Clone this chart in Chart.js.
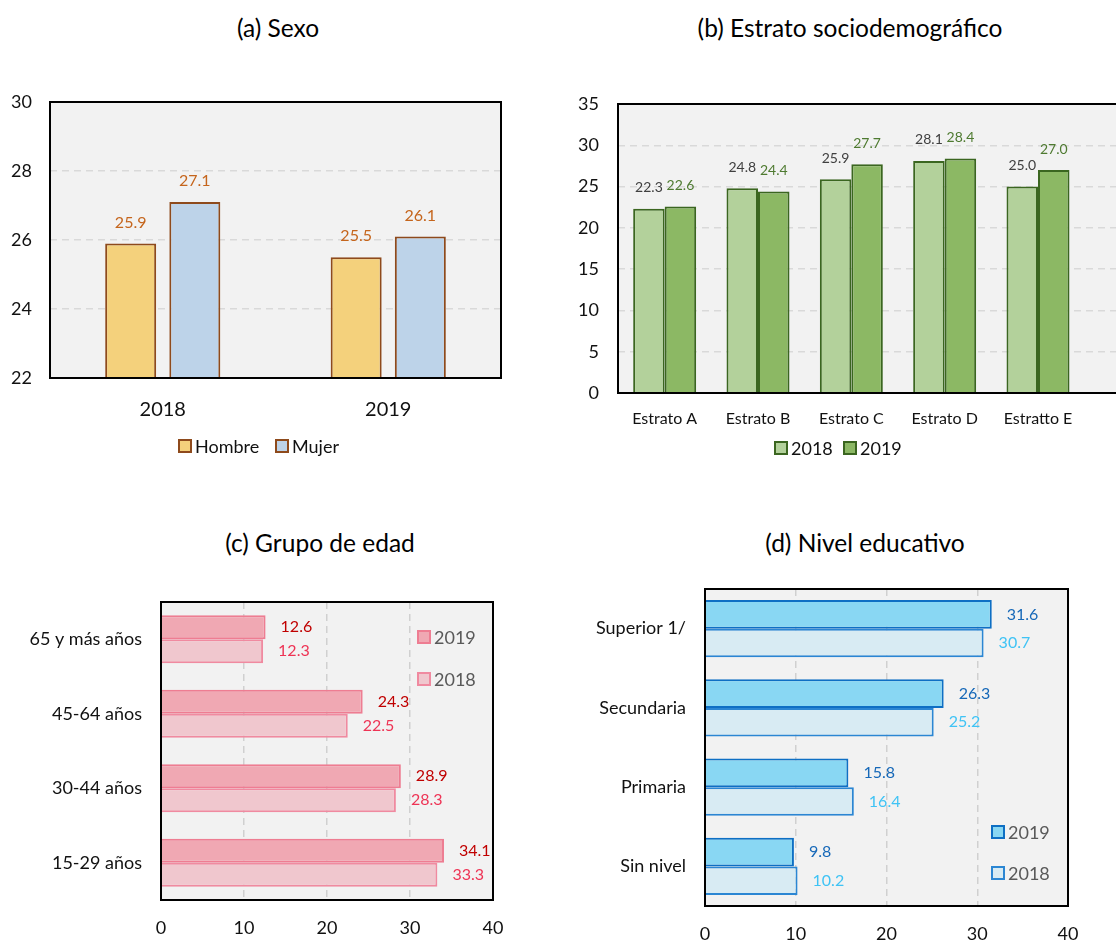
<!DOCTYPE html>
<html>
<head>
<meta charset="utf-8">
<script src="https://cdn.jsdelivr.net/npm/chart.js@4"></script>
<style>
  body { margin: 0; width: 1116px; height: 940px; overflow: hidden; background: #fff; position: relative; font-family: Lato, "Open Sans", sans-serif; }
  .title { position: absolute; width: 400px; text-align: center; font-size: 24.5px; line-height: 24px; color: #000; }
  .panel { position: absolute; }
</style>
</head>
<body>

<div class="title" style="left:78px;top:16px">(a) Sexo</div>
<div class="title" style="left:650px;top:16px">(b) Estrato sociodemográfico</div>
<div class="title" style="left:120px;top:531px">(c) Grupo de edad</div>
<div class="title" style="left:665px;top:531px">(d) Nivel educativo</div>

<div class="panel" style="left:0;top:80px"><canvas id="sexo" width="560" height="400"></canvas></div>
<div class="panel" style="left:560px;top:80px"><canvas id="estrato" width="640" height="400"></canvas></div>
<div class="panel" style="left:0;top:560px"><canvas id="edad" width="560" height="390"></canvas></div>
<div class="panel" style="left:560px;top:560px"><canvas id="nivel" width="556" height="390"></canvas></div>

<script>
// ---------- DATA ----------
const anios = ['2018', '2019'];
const hombre = [25.9, 25.5];
const mujer = [27.1, 26.1];

const estratos = ['Estrato A', 'Estrato B', 'Estrato C', 'Estrato D', 'Estratto E'];
const estrato2018 = [22.3, 24.8, 25.9, 28.1, 25.0];
const estrato2019 = [22.6, 24.4, 27.7, 28.4, 27.0];

const edades = ['65 y más años', '45-64 años', '30-44 años', '15-29 años'];
const edad2019 = [12.6, 24.3, 28.9, 34.1];
const edad2018 = [12.3, 22.5, 28.3, 33.3];

const niveles = ['Superior 1/', 'Secundaria', 'Primaria', 'Sin nivel'];
const nivel2019 = [31.6, 26.3, 15.8, 9.8];
const nivel2018 = [30.7, 25.2, 16.4, 10.2];

Chart.defaults.font.family = 'Lato, "Open Sans", sans-serif';
Chart.defaults.color = '#111';

// ---------- PLUGINS ----------
// grey plot background + black frame
const plotFrame = {
  id: 'plotFrame',
  beforeDraw(chart) {
    const a = chart.chartArea, ctx = chart.ctx;
    ctx.save();
    ctx.fillStyle = '#f2f2f2';
    ctx.fillRect(a.left, a.top, a.right - a.left, a.bottom - a.top);
    ctx.restore();
  },
  afterDatasetsDraw(chart) {
    const a = chart.chartArea, ctx = chart.ctx;
    ctx.save();
    ctx.strokeStyle = '#000';
    ctx.lineWidth = 2;
    ctx.strokeRect(a.left, a.top, a.right - a.left, a.bottom - a.top);
    ctx.restore();
  }
};

// value labels above / right of bars
const valueLabels = {
  id: 'valueLabels',
  afterDatasetsDraw(chart, args, opts) {
    const ctx = chart.ctx;
    const horiz = chart.options.indexAxis === 'y';
    ctx.save();
    ctx.font = opts.font;
    ctx.textBaseline = 'middle';
    ctx.textAlign = horiz ? 'left' : 'center';
    chart.data.datasets.forEach((ds, i) => {
      ctx.fillStyle = ds.labelColor;
      chart.getDatasetMeta(i).data.forEach((bar, j) => {
        const txt = ds.data[j].toFixed(1);
        if (horiz) ctx.fillText(txt, bar.x + opts.offset, bar.y);
        else ctx.fillText(txt, bar.x, bar.y - opts.offset);
      });
    });
    ctx.restore();
  }
};

// small square legend placed at fixed spots
const boxLegend = {
  id: 'boxLegend',
  afterDraw(chart, args, opts) {
    const ctx = chart.ctx;
    ctx.save();
    ctx.font = opts.font;
    ctx.textBaseline = 'middle';
    ctx.textAlign = 'left';
    chart.data.datasets.forEach((ds, i) => {
      const [x, cy] = opts.at[i];
      ctx.fillStyle = ds.backgroundColor;
      ctx.fillRect(x, cy - 6, 12, 12);
      ctx.strokeStyle = ds.borderColor;
      ctx.lineWidth = 2;
      ctx.strokeRect(x, cy - 6, 12, 12);
      ctx.fillStyle = opts.color;
      ctx.fillText(ds.label, x + 16, cy + 1);
    });
    ctx.restore();
  }
};

// fixed axis size, and no extra room for the end labels
function fixSize(w, h) {
  return s => {
    if (w) s.width = w;
    if (h) s.height = h;
    s.paddingTop = 0; s.paddingBottom = 0;
    s.paddingLeft = 0; s.paddingRight = 0;
  };
}

const base = {
  responsive: false,
  animation: false,
  events: []
};

// ---------- (a) SEXO ----------
new Chart(document.getElementById('sexo'), {
  type: 'bar',
  data: {
    labels: anios,
    datasets: [
      { label: 'Hombre', data: hombre, backgroundColor: '#f4d17c', borderColor: '#8e4a1c', labelColor: '#c5651c' },
      { label: 'Mujer', data: mujer, backgroundColor: '#bdd3e9', borderColor: '#8e4a1c', labelColor: '#c5651c' }
    ]
  },
  options: {
    ...base,
    datasets: { bar: { borderWidth: 2, categoryPercentage: 0.569, barPercentage: 0.795 } },
    layout: { padding: { top: 22, left: 0, right: 59, bottom: 42 } },
    scales: {
      x: {
        grid: { display: false, drawTicks: false }, border: { display: false },
        ticks: { font: { size: 20 }, padding: 20 },
        afterFit: fixSize(0, 60)
      },
      y: {
        min: 22, max: 30,
        ticks: { stepSize: 2, font: { size: 18 }, padding: 18 },
        grid: { color: '#d9d9d9', lineWidth: 1.5, drawTicks: false },
        border: { display: false, dash: [7, 5] },
        afterFit: fixSize(50, 0)
      }
    },
    plugins: {
      legend: { display: false }, tooltip: { enabled: false },
      valueLabels: { font: '16px Lato', offset: 21 },
      boxLegend: { at: [[179, 366], [276, 366]], font: '18px Lato', color: '#111' }
    }
  },
  plugins: [plotFrame, valueLabels, boxLegend]
});

// ---------- (b) ESTRATO ----------
new Chart(document.getElementById('estrato'), {
  type: 'bar',
  data: {
    labels: [...estratos, ''],
    datasets: [
      { label: '2018', data: estrato2018, backgroundColor: '#b3d19b', borderColor: '#3b6620', labelColor: '#404040' },
      { label: '2019', data: estrato2019, backgroundColor: '#8cb864', borderColor: '#3b6620', labelColor: '#4e7a30' }
    ]
  },
  options: {
    ...base,
    datasets: { bar: { borderWidth: 2, categoryPercentage: 0.675, barPercentage: 1.0 } },
    layout: { padding: { top: 24, left: 0, right: 22, bottom: 37 } },
    scales: {
      x: {
        grid: { display: false, drawTicks: false }, border: { display: false },
        ticks: { font: { size: 16 }, padding: 16 },
        afterFit: fixSize(0, 50)
      },
      y: {
        min: 0, max: 35,
        ticks: { stepSize: 5, font: { size: 18 }, padding: 19 },
        grid: { color: '#d9d9d9', lineWidth: 1.5, drawTicks: false },
        border: { display: false, dash: [7, 5] },
        afterFit: fixSize(58, 0)
      }
    },
    plugins: {
      legend: { display: false }, tooltip: { enabled: false },
      valueLabels: { font: '14px Lato', offset: 21 },
      boxLegend: { at: [[215, 368], [284, 368]], font: '18px Lato', color: '#111' }
    }
  },
  plugins: [plotFrame, valueLabels, boxLegend]
});

// ---------- (c) GRUPO DE EDAD ----------
new Chart(document.getElementById('edad'), {
  type: 'bar',
  data: {
    labels: edades,
    datasets: [
      { label: '2019', data: edad2019, backgroundColor: '#f0a8b3', borderColor: '#ee7d92', labelColor: '#c00000' },
      { label: '2018', data: edad2018, backgroundColor: '#f0c7ce', borderColor: '#f08aa0', labelColor: '#ee3455' }
    ]
  },
  options: {
    ...base,
    indexAxis: 'y',
    datasets: { bar: { borderWidth: 2, categoryPercentage: 0.645, barPercentage: 1.0 } },
    layout: { padding: { top: 42, left: 0, right: 67, bottom: 0 } },
    scales: {
      y: {
        grid: { display: false, drawTicks: false }, border: { display: false },
        ticks: { font: { size: 18 }, padding: 19 },
        afterFit: fixSize(161, 0)
      },
      x: {
        min: 0, max: 40,
        ticks: { stepSize: 10, font: { size: 18 }, padding: 17 },
        grid: { color: '#d0d0d0', lineWidth: 1.5, drawTicks: false },
        border: { display: false, dash: [7, 5] },
        afterFit: fixSize(0, 50)
      }
    },
    plugins: {
      legend: { display: false }, tooltip: { enabled: false },
      valueLabels: { font: '16px Lato', offset: 15 },
      boxLegend: { at: [[418, 77], [418, 119]], font: '18px Lato', color: '#595959' }
    }
  },
  plugins: [plotFrame, valueLabels, boxLegend]
});

// ---------- (d) NIVEL EDUCATIVO ----------
new Chart(document.getElementById('nivel'), {
  type: 'bar',
  data: {
    labels: niveles,
    datasets: [
      { label: '2019', data: nivel2019, backgroundColor: '#89d7f3', borderColor: '#0e6fc4', labelColor: '#1668b8' },
      { label: '2018', data: nivel2018, backgroundColor: '#d8ebf3', borderColor: '#2b86d3', labelColor: '#3fc3f5' }
    ]
  },
  options: {
    ...base,
    indexAxis: 'y',
    datasets: { bar: { borderWidth: 2, categoryPercentage: 0.72, barPercentage: 1.0 } },
    layout: { padding: { top: 29, left: 0, right: 48, bottom: 0 } },
    scales: {
      y: {
        grid: { display: false, drawTicks: false }, border: { display: false },
        ticks: { font: { size: 18 }, padding: 19 },
        afterFit: fixSize(145, 0)
      },
      x: {
        min: 0, max: 40,
        ticks: { stepSize: 10, font: { size: 18 }, padding: 17 },
        grid: { color: '#d0d0d0', lineWidth: 1.5, drawTicks: false },
        border: { display: false, dash: [7, 5] },
        afterFit: fixSize(0, 44)
      }
    },
    plugins: {
      legend: { display: false }, tooltip: { enabled: false },
      valueLabels: { font: '16px Lato', offset: 15 },
      boxLegend: { at: [[432, 272], [432, 313]], font: '18px Lato', color: '#595959' }
    }
  },
  plugins: [plotFrame, valueLabels, boxLegend]
});
</script>
</body>
</html>
